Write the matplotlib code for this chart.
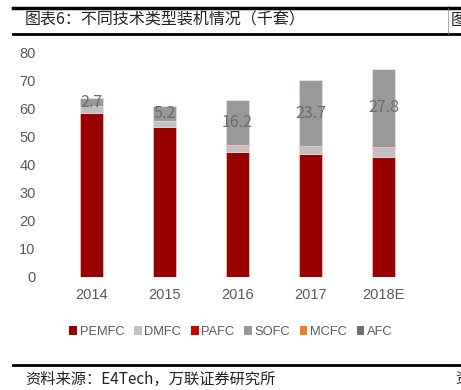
import matplotlib
matplotlib.use("Agg")
import matplotlib.pyplot as plt
from matplotlib.lines import Line2D
from matplotlib.patches import Patch
import numpy as np

plt.rcParams['font.family'] = ['Noto Sans CJK SC', 'DejaVu Sans']

years = ["2014", "2015", "2016", "2017", "2018E"]
series_names = ["PEMFC", "DMFC", "PAFC", "SOFC", "MCFC", "AFC"]
pemfc = [58.5, 53.7, 44.7, 43.9, 42.7]
dmfc = [2.4, 1.9, 2.1, 2.5, 3.4]
pafc = [0.2, 0.2, 0.2, 0.3, 0.4]
sofc = [2.7, 5.2, 16.2, 23.7, 27.8]
mcfc = [0.2, 0.1, 0.1, 0.1, 0.1]
afc = [0.0, 0.0, 0.0, 0.0, 0.0]
colors = ["#990000", "#C0C0C0", "#CC0000", "#999999", "#ED7D31", "#707070"]
yticks = [0, 10, 20, 30, 40, 50, 60, 70, 80]

W, H = 461, 390
fig = plt.figure(figsize=(W / 100, H / 100), dpi=100)
ax = fig.add_axes([55 / W, 1 - 277 / H, 365 / W, 224 / H])

x = np.arange(len(years))
bottom = np.zeros(len(years))
data = [pemfc, dmfc, pafc, sofc, mcfc, afc]
for name, vals, c in zip(series_names, data, colors):
    vals = np.array(vals)
    ax.bar(x, vals, 0.315, bottom=bottom, color=c, edgecolor="#f0e0e0", linewidth=0.4, label=name)
    if name == "SOFC":
        for xi, b, v in zip(x, bottom, vals):
            ax.text(xi, b + v / 2, f"{v:.1f}", ha="center", va="center",
                    fontsize=11.5, color="#6b6b6b", fontweight="light")
    bottom += vals

ax.set_xlim(-0.5, 4.5)
ax.set_ylim(0, 80)
ax.set_yticks(yticks)
ax.set_xticks(x)
ax.set_xticklabels(years)
for s in ax.spines.values():
    s.set_visible(False)
ax.tick_params(axis="both", length=0, labelsize=10.5, colors="#595959")
ax.tick_params(axis="y", pad=14)
ax.tick_params(axis="x", pad=8)
for lab in ax.get_xticklabels() + ax.get_yticklabels():
    lab.set_fontfamily(["Liberation Sans", "DejaVu Sans"])

handles = [Patch(facecolor=c, edgecolor="none") for c in colors]
fig.legend(handles, series_names, loc="center", bbox_to_anchor=(231 / W, 1 - 332 / H),
           ncol=6, frameon=False, handlelength=0.6, handleheight=0.6,
           handletextpad=0.2, columnspacing=0.75, labelcolor="#595959",
           prop={"family": ["Liberation Sans", "DejaVu Sans"], "size": 9.3})

# header / footer lines
for yy, lw in [(8, 2.5), (34, 2.0), (365, 2.0)]:
    fig.add_artist(Line2D([13 / W, 447 / W], [1 - yy / H] * 2, color="black", lw=lw))
    fig.add_artist(Line2D([449 / W, 1], [1 - yy / H] * 2, color="black", lw=lw))
fig.add_artist(Line2D([448 / W] * 2, [1 - 8 / H, 1 - 34 / H], color="#888888", lw=0.5))

fig.text(25 / W, 1 - 20 / H, "图表6：不同技术类型装机情况（千套）", fontsize=11.5,
         va="center", ha="left", color="#222222")
fig.text(451 / W, 1 - 20 / H, "图", fontsize=11.5, va="center", ha="left", color="#222222")
fig.text(25 / W, 1 - 379 / H, "资料来源：E4Tech，万联证券研究所", fontsize=11,
         va="center", ha="left", style="italic", color="#222222")
fig.text(455 / W, 1 - 379 / H, "资", fontsize=11, va="center", ha="left", style="italic", color="#222222")

fig.savefig("out.png", dpi=100)
